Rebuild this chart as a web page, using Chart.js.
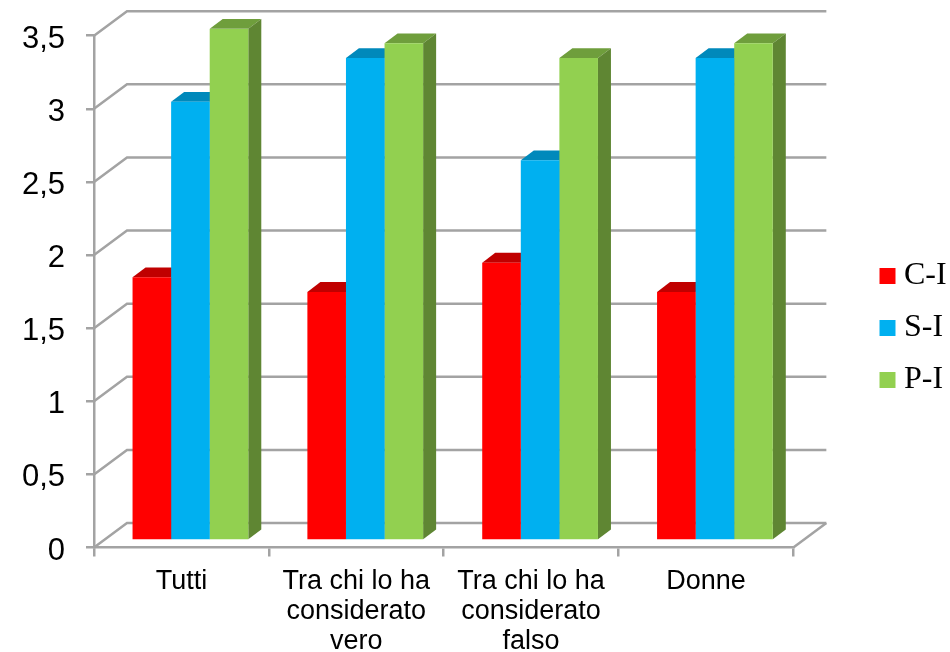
<!DOCTYPE html>
<html>
<head>
<meta charset="utf-8">
<title>Chart</title>
<style>
    body { margin: 0; background: #ffffff; }
    canvas { display: block; }
</style>
<script src="https://cdn.jsdelivr.net/npm/chart.js@4/dist/chart.umd.min.js"></script>
</head>
<body>
<canvas id="chart" width="950" height="652"></canvas>
<script>
// Data
const categories = ['Tutti', ['Tra chi lo ha', 'considerato', 'vero'], ['Tra chi lo ha', 'considerato', 'falso'], 'Donne'];
const seriesNames = ['C-I', 'S-I', 'P-I'];
const valuesCI = [1.8, 1.7, 1.9, 1.7];
const valuesSI = [3, 3.3, 2.6, 3.3];
const valuesPI = [3.5, 3.4, 3.3, 3.4];
const yMax = 3.5;
const yStep = 0.5;

// Colours: front, top and side faces
const frontColors = ['#ff0000', '#00b0f0', '#92d050'];
const topColors = ['#c00000', '#0089bb', '#6f9e3c'];
const sideColors = ['#a80000', '#007aa8', '#5f8633'];
const gridColor = '#a3a3a3';

// Depth of the box and of the bars
const boxDepthX = 33, boxDepthY = 24.5;
const barShiftX = 9, barShiftY = 7;
const barDepthX = 13, barDepthY = 9.8;

// Back wall, side wall and floor lines behind the bars, then bar sides
const box3d = {
    id: 'box3d',
    afterLayout(chart) {
        // move the legend back to the far right of the page
        const legend = chart.legend;
        legend.left = 867;
        legend.right = 960;
        legend.top = 2;
        legend.bottom = 654;
    },
    beforeDatasetsDraw(chart) {
        const ctx = chart.ctx;
        const area = chart.chartArea;
        const yScale = chart.scales.y;

        ctx.save();
        ctx.strokeStyle = gridColor;
        ctx.lineWidth = 2.5;
        yScale.ticks.forEach(tick => {
            const y = yScale.getPixelForValue(tick.value);
            ctx.beginPath();
            ctx.moveTo(area.left, y);
            ctx.lineTo(area.left + boxDepthX, y - boxDepthY);
            ctx.lineTo(area.right + boxDepthX, y - boxDepthY);
            ctx.stroke();
        });
        // right edge of the floor
        ctx.beginPath();
        ctx.moveTo(area.right, area.bottom);
        ctx.lineTo(area.right + boxDepthX, area.bottom - boxDepthY);
        ctx.stroke();
        ctx.restore();

        // bars are drawn a little inside the box
        ctx.save();
        ctx.translate(barShiftX, -barShiftY);
        chart.data.datasets.forEach((ds, i) => {
            chart.getDatasetMeta(i).data.forEach(bar => {
                const left = bar.x - bar.width / 2;
                const right = bar.x + bar.width / 2;
                ctx.fillStyle = topColors[i];
                ctx.beginPath();
                ctx.moveTo(left, bar.y);
                ctx.lineTo(left + barDepthX, bar.y - barDepthY);
                ctx.lineTo(right + barDepthX, bar.y - barDepthY);
                ctx.lineTo(right, bar.y);
                ctx.closePath();
                ctx.fill();
                ctx.fillStyle = sideColors[i];
                ctx.beginPath();
                ctx.moveTo(right, bar.y);
                ctx.lineTo(right + barDepthX, bar.y - barDepthY);
                ctx.lineTo(right + barDepthX, bar.base - barDepthY);
                ctx.lineTo(right, bar.base);
                ctx.closePath();
                ctx.fill();
            });
        });
    },
    afterDatasetsDraw(chart) {
        chart.ctx.restore();
    }
};

new Chart(document.getElementById('chart'), {
    type: 'bar',
    data: {
        labels: categories,
        datasets: [valuesCI, valuesSI, valuesPI].map((values, i) => ({
            label: seriesNames[i],
            data: values,
            backgroundColor: frontColors[i],
            borderWidth: 0,
            categoryPercentage: 0.662,
            barPercentage: 1
        }))
    },
    options: {
        responsive: false,
        animation: false,
        devicePixelRatio: 1,
        layout: {
            padding: { top: 35.7, right: 67, bottom: 0, left: 0 }
        },
        plugins: {
            tooltip: { enabled: false },
            legend: {
                position: 'right',
                maxWidth: 90,
                labels: {
                    usePointStyle: true,
                    pointStyle: 'rect',
                    boxWidth: 1,
                    boxHeight: 16,
                    padding: 20,
                    color: '#000000',
                    font: { family: '"Liberation Serif"', size: 32 }
                }
            }
        },
        scales: {
            x: {
                afterFit(scale) {
                    scale.height = 104.5;
                    scale.paddingLeft = 0;
                    scale.paddingRight = 0;
                },
                grid: { drawOnChartArea: false, color: gridColor, lineWidth: 2.5, tickLength: 9 },
                border: { color: gridColor, width: 2.5 },
                ticks: {
                    color: '#000000',
                    padding: 10,
                    maxRotation: 0,
                    font: { family: '"Liberation Sans"', size: 27, lineHeight: 1.11 }
                }
            },
            y: {
                min: 0,
                max: yMax,
                afterFit(scale) {
                    scale.width = 94;
                    scale.paddingTop = 0;
                    scale.paddingBottom = 0;
                },
                grid: { drawOnChartArea: false, color: gridColor, lineWidth: 2.5, tickLength: 8 },
                border: { color: gridColor, width: 2.5 },
                ticks: {
                    stepSize: yStep,
                    color: '#000000',
                    padding: 21,
                    // small line height + empty first line nudges the label down a bit
                    font: { family: '"Liberation Sans"', size: 31, lineHeight: 0.226 },
                    callback: value => ['', String(value).replace('.', ',')]
                }
            }
        }
    },
    plugins: [box3d]
});
</script>
</body>
</html>
